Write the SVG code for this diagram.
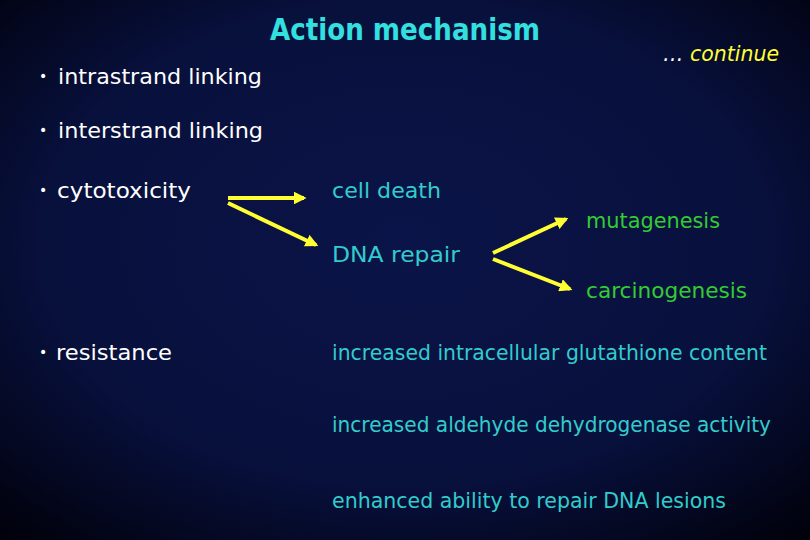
<svg xmlns="http://www.w3.org/2000/svg" width="810" height="540" viewBox="0 0 810 540">
<defs>
<radialGradient id="bg" cx="50%" cy="45%" r="75%">
<stop offset="0" stop-color="#0b1448"/>
<stop offset="0.6" stop-color="#08103c"/>
<stop offset="1" stop-color="#000008"/>
</radialGradient>
<marker id="ah" viewBox="0 0 10 10" refX="8" refY="5" markerWidth="3.2" markerHeight="3.2" orient="auto" markerUnits="strokeWidth">
<path d="M0,0 L10,5 L0,10 Z" fill="#ffff33"/>
</marker>
<style>
text{font-family:"DejaVu Sans","Liberation Sans",sans-serif;font-size:21px}
.b{font-size:14px;fill:#ffffff}
.w{fill:#ffffff}
.c{fill:#33cccc}
.g{fill:#33cc33}
.t{fill:#33e0e0;font-size:30px;font-weight:bold}
.y{fill:#ffff33;font-style:italic}
.a{stroke:#ffff33;stroke-width:4;fill:none;marker-end:url(#ah)}
</style>
</defs>
<rect width="810" height="540" fill="url(#bg)"/>
<g id="title"><text class="t" x="270" y="40" textLength="270" lengthAdjust="spacingAndGlyphs">Action mechanism</text></g>
<g id="continue"><text class="y" x="663" y="61" textLength="116" lengthAdjust="spacingAndGlyphs"><tspan fill="#ffffff">…</tspan> continue</text></g>
<g id="intrastrand"><text class="b" x="39" y="81">•</text><text class="w" x="58" y="84" textLength="204" lengthAdjust="spacingAndGlyphs">intrastrand linking</text></g>
<g id="interstrand"><text class="b" x="39" y="135">•</text><text class="w" x="58" y="138" textLength="205" lengthAdjust="spacingAndGlyphs">interstrand linking</text></g>
<g id="cytotoxicity"><text class="b" x="39" y="195">•</text><text class="w" x="57" y="198" textLength="134" lengthAdjust="spacingAndGlyphs">cytotoxicity</text></g>
<g id="celldeath"><text class="c" x="332" y="198" textLength="109" lengthAdjust="spacingAndGlyphs">cell death</text></g>
<g id="dnarepair"><text class="c" x="332" y="262" textLength="128" lengthAdjust="spacingAndGlyphs">DNA repair</text></g>
<g id="mutagenesis"><text class="g" x="586" y="228" textLength="134" lengthAdjust="spacingAndGlyphs">mutagenesis</text></g>
<g id="carcinogenesis"><text class="g" x="586" y="298" textLength="161" lengthAdjust="spacingAndGlyphs">carcinogenesis</text></g>
<g id="resistance"><text class="b" x="39" y="357">•</text><text class="w" x="56" y="360" textLength="116" lengthAdjust="spacingAndGlyphs">resistance</text></g>
<g id="glutathione"><text class="c" x="332" y="360" textLength="435" lengthAdjust="spacingAndGlyphs">increased intracellular glutathione content</text></g>
<g id="aldehyde"><text class="c" x="332" y="432" textLength="439" lengthAdjust="spacingAndGlyphs">increased aldehyde dehydrogenase activity</text></g>
<g id="enhanced"><text class="c" x="332" y="508" textLength="394" lengthAdjust="spacingAndGlyphs">enhanced ability to repair DNA lesions</text></g>
<g id="connectors">
<line class="a" x1="228" y1="198" x2="304" y2="198"/>
<line class="a" x1="228" y1="203" x2="316" y2="245"/>
<line class="a" x1="493" y1="253" x2="566" y2="219"/>
<line class="a" x1="493" y1="259" x2="570" y2="289"/>
</g>
</svg>
